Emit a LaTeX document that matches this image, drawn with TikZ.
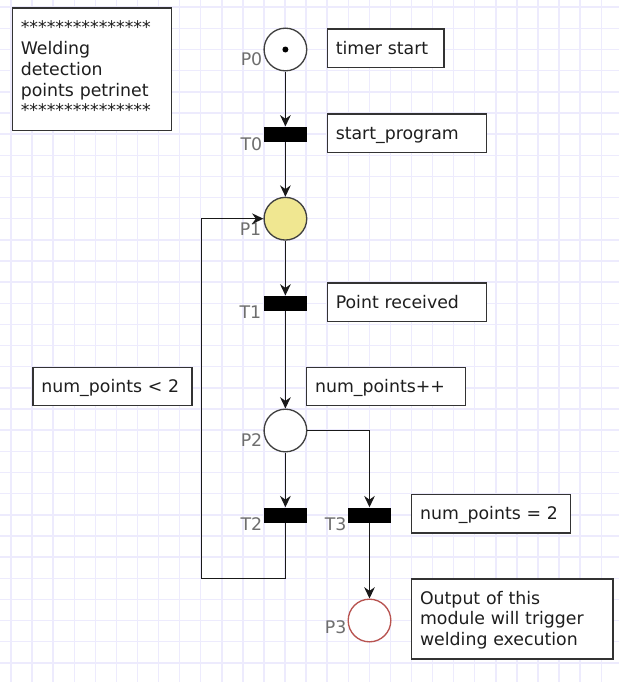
\documentclass[tikz,border=0pt]{standalone}
\usepackage{fontspec}
\setmainfont{DejaVu Sans}
\usetikzlibrary{arrows.meta}
\definecolor{gridc}{RGB}{237,235,253}
\definecolor{lblc}{RGB}{110,110,110}
\definecolor{khakic}{RGB}{240,231,145}
\definecolor{redc}{RGB}{184,84,80}
\definecolor{inkc}{RGB}{30,30,30}
\begin{document}
\begin{tikzpicture}[x=0.75pt,y=-0.75pt,
  font=\fontsize{13}{15.6}\selectfont,
  gridline/.style={draw=gridc, line width=1.1pt},
  place/.style={circle, draw=black!75, line width=1pt, minimum size=32pt, inner sep=0pt, fill=white},
  trans/.style={rectangle, fill=black, draw=none, minimum width=32.25pt, minimum height=11.25pt, inner sep=0pt},
  lbl/.style={text=lblc, inner sep=0pt, anchor=base east},
  note/.style={rectangle, draw=black!80, line width=1pt, fill=white, text=inkc, align=left,
               inner xsep=6.3pt, inner ysep=0pt, text height=10pt, text depth=1pt, anchor=north west,
               minimum width=119.25pt, minimum height=28.8pt, text width=106.65pt},
  arr/.style={draw=black!90, line width=1pt, -{Stealth[length=8.5pt,width=8pt,inset=2.8pt]}}]
\useasboundingbox (0,0) rectangle (619,682);
\fill[white] (0,0) rectangle (619,682);
% grid
\foreach \i in {0,...,28} \draw[gridline] ({11+21.08*\i},0) -- ({11+21.08*\i},682);
\foreach \j in {0,...,31} \draw[gridline] (0,{7.2+21.15*\j}) -- (619,{7.2+21.15*\j});

% title box
\node[note, minimum width=119.25pt, minimum height=92pt, text width=106.65pt, text depth=63.4pt] (title) at (11.7,7.3)
  {***************\\{}Welding\\{}detection\\{}points petrinet\\{}***************};

% places
\node[place] (P0) at (285.4,49.5) {};
\node[circle, fill=black, minimum size=4.5pt, inner sep=0pt] (tok) at (P0.center) {};
\node[place, fill=khakic] (P1) at (285.4,218.7) {};
\node[place] (P2) at (285.4,430.5) {};
\node[place, draw=redc] (P3) at (369.5,620.5) {};

% transitions
\node[trans] (T0) at (285.4,134.2) {};
\node[trans] (T1) at (285.4,303.3) {};
\node[trans] (T2) at (285.4,515) {};
\node[trans] (T3) at (369.5,515) {};

% labels
\node[lbl] (lP0) at (262.5,65.7) {P0};
\node[lbl] (lT0) at (262.5,150) {T0};
\node[lbl] (lP1) at (261.5,235) {P1};
\node[lbl] (lT1) at (261.5,318.5) {T1};
\node[lbl] (lP2) at (262.5,446.7) {P2};
\node[lbl] (lT2) at (262.5,530.7) {T2};
\node[lbl] (lT3) at (346.7,530) {T3};
\node[lbl] (lP3) at (346.7,633) {P3};

% notes
\node[note, minimum width=87.5pt, text width=74.9pt] (n0) at (326.7,28.3) {timer start};
\node[note] (n1) at (326.7,113.3) {start\_program};
\node[note] (n2) at (326.7,282.2) {Point received};
\node[note] (n3) at (32.3,366.7) {num\_points < 2};
\node[note] (n4) at (306,366.7) {num\_points++};
\node[note] (n5) at (411,494) {num\_points = 2};
\node[note, minimum width=151pt, minimum height=60pt, text width=138.4pt, text depth=32.2pt] (n6) at (411,578.3)
  {Output of this\\{}module will trigger\\{}welding execution};

% arcs
\coordinate (Lc) at (201.3,578.3);
\draw[arr] (P0) -- (T0);
\draw[arr] (T0) -- (P1);
\draw[arr] (P1) -- (T1);
\draw[arr] (T1) -- (P2);
\draw[arr] (P2) -- (T2);
\draw[arr] (P2) -| (T3);
\draw[arr] (T3) -- (P3);
\draw[arr] (T2.south) |- (Lc) |- (P1.west);
\end{tikzpicture}
\end{document}
